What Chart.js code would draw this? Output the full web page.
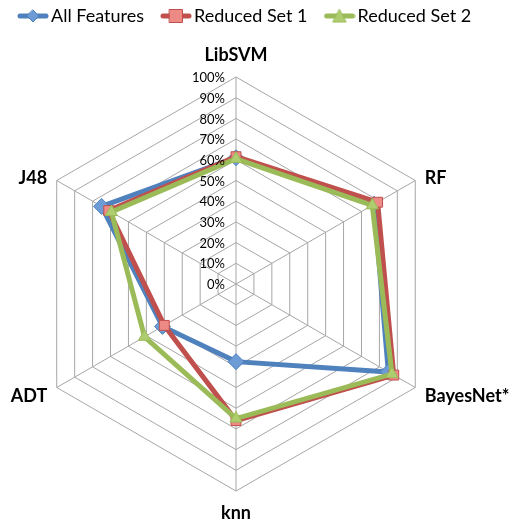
<!DOCTYPE html>
<html>
<head>
<meta charset="utf-8">
<script src="https://cdn.jsdelivr.net/npm/chart.js@4"></script>
<style>
  html, body { margin: 0; padding: 0; background: #fff; }
  #wrap { width: 523px; height: 531px; }
</style>
</head>
<body>
<div id="wrap"><canvas id="chart"></canvas></div>
<script>
const labels = ["LibSVM", "RF", "BayesNet*", "knn", "ADT", "J48"];
const allFeatures = [61, 77, 85, 37.5, 41, 75];
const reducedSet1 = [61.5, 79, 88, 66, 40, 71];
const reducedSet2 = [60.5, 76, 87, 65, 51, 69.5];
const tickValues = [0, 10, 20, 30, 40, 50, 60, 70, 80, 90, 100];

const FONT = "Lato, 'Open Sans', sans-serif";

// legend icon: short line with the marker on top
function legendIcon(color, fill, style) {
  const c = document.createElement("canvas");
  c.width = 32; c.height = 16;
  const g = c.getContext("2d");
  g.strokeStyle = color;
  g.lineWidth = 5;
  g.lineCap = "round";
  g.beginPath(); g.moveTo(3, 8); g.lineTo(29, 8); g.stroke();
  g.fillStyle = fill;
  g.strokeStyle = color;
  g.lineWidth = 1;
  g.beginPath();
  if (style === "rectRot") {
    g.moveTo(16, 2); g.lineTo(22, 8); g.lineTo(16, 14); g.lineTo(10, 8);
  } else if (style === "rect") {
    g.rect(9.5, 1.5, 13, 13);
  } else {
    g.moveTo(16, 1.5); g.lineTo(22.5, 14); g.lineTo(9.5, 14);
  }
  g.closePath(); g.fill(); g.stroke();
  return c;
}

const series = [
  { label: "All Features", data: allFeatures, color: "#4F81BD", fill: "#6C9BD6", style: "rectRot", r: 8, order: 3 },
  { label: "Reduced Set 1", data: reducedSet1, color: "#C0504D", fill: "#EE8A86", style: "rect", r: 7, order: 2 },
  { label: "Reduced Set 2", data: reducedSet2, color: "#9BBB59", fill: "#AECD6E", style: "triangle", r: 7, order: 1 }
];

// tick labels left of the vertical axis + category labels around the web
const textPlugin = {
  id: "radarText",
  afterDatasetsDraw(chart) {
    const s = chart.scales.r;
    const ctx = chart.ctx;
    ctx.save();
    ctx.fillStyle = "#000";
    ctx.font = "13px " + FONT;
    ctx.textAlign = "right";
    ctx.textBaseline = "middle";
    tickValues.forEach(v => {
      const d = s.getDistanceFromCenterForValue(v);
      ctx.fillText(v + "%", s.xCenter - 11, s.yCenter - d + 1);
    });

    ctx.font = "bold 18px " + FONT;
    labels.forEach((lab, i) => {
      const a = s.getIndexAngle(i);
      const sin = Math.sin(a);
      const side = Math.abs(sin) > 0.1;
      const p = s.getPointPosition(i, s.drawingArea + (side ? 11 : 22));
      ctx.textAlign = side ? (sin > 0 ? "left" : "right") : "center";
      ctx.textBaseline = "middle";
      ctx.fillText(lab, p.x, p.y + (side ? 3 : 0));
    });
    ctx.restore();
  }
};

new Chart(document.getElementById("chart"), {
  type: "radar",
  data: {
    labels,
    datasets: series.map(s => ({
      label: s.label,
      data: s.data,
      order: s.order,
      borderColor: s.color,
      backgroundColor: s.fill,
      borderWidth: 5,
      fill: false,
      clip: false,
      pointStyle: s.style,
      pointRadius: s.r,
      pointBackgroundColor: s.fill,
      pointBorderColor: s.color,
      pointBorderWidth: 1,
      tension: 0
    }))
  },
  options: {
    responsive: true,
    maintainAspectRatio: false,
    animation: false,
    layout: { padding: { top: -16, left: 1 } },
    plugins: {
      legend: {
        position: "top",
        align: "start",
        labels: {
          font: { family: FONT, size: 18 },
          color: "#000",
          padding: 23,
          boxHeight: 16,
          usePointStyle: true,
          generateLabels(chart) {
            return series.map((s, i) => ({
              text: s.label,
              pointStyle: legendIcon(s.color, s.fill, s.style),
              datasetIndex: i,
              fontColor: "#000",
              lineWidth: 0,
              strokeStyle: "rgba(0,0,0,0)",
              fillStyle: "rgba(0,0,0,0)"
            }));
          }
        }
      },
      tooltip: { enabled: false }
    },
    scales: {
      r: {
        min: 0,
        max: 100,
        ticks: { stepSize: 10, display: false },
        grid: { color: "#A6A6A6", lineWidth: 1 },
        angleLines: { color: "#A6A6A6", lineWidth: 1 },
        pointLabels: { display: false },
        // place the web like the original plot area
        afterFit(scale) {
          scale.xCenter = 236;
          scale.yCenter = 284;
          scale.drawingArea = 207;
        }
      }
    }
  },
  plugins: [textPlugin]
});
</script>
</body>
</html>
